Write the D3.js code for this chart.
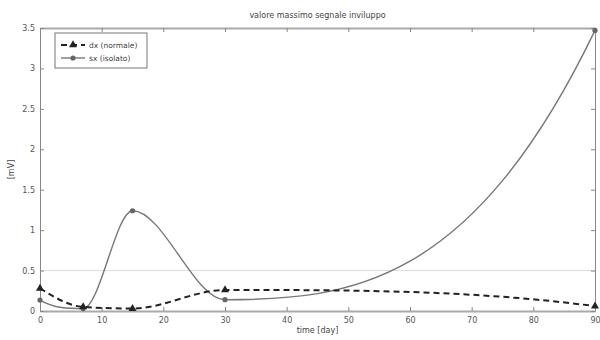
<!DOCTYPE html>
<html>
<head>
<meta charset="utf-8">
<script src="https://cdn.jsdelivr.net/npm/d3@7"></script>
<style>
  body { margin: 0; background: #fff; }
  svg text { font-family: "DejaVu Sans", sans-serif; fill: #444; }
</style>
</head>
<body>
<div id="chart"></div>
<script>
// days of measurement
const days = [0, 7, 15, 30, 90];
// dx (normale)
const dxValues = [0.28, 0.05, 0.03, 0.26, 0.06];
// sx (isolato)
const sxValues = [0.135, 0.03, 1.24, 0.14, 3.47];
const xTicks = [0, 10, 20, 30, 40, 50, 60, 70, 80, 90];
const yTicks = [0, 0.5, 1, 1.5, 2, 2.5, 3, 3.5];
const yTickLabels = ["0", "0.5", "1", "1.5", "2", "2.5", "3", "3.5"];
const refLevel = 0.5;

const width = 600, height = 340;
const margin = { top: 28, right: 5, bottom: 29, left: 40 };
const innerW = width - margin.left - margin.right;
const innerH = height - margin.top - margin.bottom;

const svg = d3.select("#chart").append("svg")
  .attr("width", width)
  .attr("height", height);

const g = svg.append("g")
  .attr("transform", "translate(" + margin.left + "," + margin.top + ")");

const x = d3.scaleLinear().domain([0, 90]).range([0, innerW]);
const y = d3.scaleLinear().domain([0, 3.5]).range([innerH, 0]);

// piecewise cubic hermite slopes, same rules as matlab pchip
function pchipSlopes(xs, ys) {
  const n = xs.length;
  const h = [], del = [];
  for (let k = 0; k < n - 1; k++) {
    h.push(xs[k + 1] - xs[k]);
    del.push((ys[k + 1] - ys[k]) / h[k]);
  }
  const d = new Array(n).fill(0);
  for (let k = 1; k < n - 1; k++) {
    if (Math.sign(del[k - 1]) * Math.sign(del[k]) > 0) {
      const w1 = 2 * h[k] + h[k - 1];
      const w2 = h[k] + 2 * h[k - 1];
      d[k] = (w1 + w2) / (w1 / del[k - 1] + w2 / del[k]);
    }
  }
  const endSlope = (h0, h1, d0, d1) => {
    let s = ((2 * h0 + h1) * d0 - h0 * d1) / (h0 + h1);
    if (Math.sign(s) !== Math.sign(d0)) s = 0;
    else if (Math.sign(d0) !== Math.sign(d1) && Math.abs(s) > Math.abs(3 * d0)) s = 3 * d0;
    return s;
  };
  d[0] = endSlope(h[0], h[1], del[0], del[1]);
  d[n - 1] = endSlope(h[n - 2], h[n - 3], del[n - 2], del[n - 3]);
  return d;
}

function pchipPath(xs, ys) {
  const d = pchipSlopes(xs, ys);
  const p = d3.path();
  p.moveTo(x(xs[0]), y(ys[0]));
  for (let k = 0; k < xs.length - 1; k++) {
    const hk = (xs[k + 1] - xs[k]) / 3;
    p.bezierCurveTo(
      x(xs[k] + hk), y(ys[k] + d[k] * hk),
      x(xs[k + 1] - hk), y(ys[k + 1] - d[k + 1] * hk),
      x(xs[k + 1]), y(ys[k + 1]));
  }
  return p.toString();
}

// reference line at 0.5
g.append("line")
  .attr("x1", 0).attr("x2", innerW)
  .attr("y1", y(refLevel)).attr("y2", y(refLevel))
  .style("stroke", "#ddd").style("stroke-width", 1);

// axes, matlab style: ticks inward
const axisColor = "#888";
const xBottom = g.append("g").attr("transform", "translate(0," + innerH + ")")
  .call(d3.axisBottom(x).tickValues(xTicks).tickSizeInner(-4).tickSizeOuter(0).tickPadding(6));
const xTop = g.append("g")
  .call(d3.axisTop(x).tickValues(xTicks).tickSizeInner(-4).tickSizeOuter(0).tickFormat(""));
const yLeft = g.append("g")
  .call(d3.axisLeft(y).tickValues(yTicks).tickSizeInner(-4).tickSizeOuter(0).tickPadding(5)
    .tickFormat((d, i) => yTickLabels[i]));
const yRight = g.append("g").attr("transform", "translate(" + innerW + ",0)")
  .call(d3.axisRight(y).tickValues(yTicks).tickSizeInner(-4).tickSizeOuter(0).tickFormat(""));

[xBottom, xTop, yLeft, yRight].forEach(a => {
  a.selectAll("path").style("stroke", axisColor);
  a.selectAll("line").style("stroke", axisColor);
  a.selectAll("text").style("font-size", "8px").style("fill", "#555");
});
xTop.select("path").style("stroke", "#aaa").style("stroke-width", 2);
xBottom.select("path").style("stroke", "#aaa").style("stroke-width", 2);

// sx solid gray
g.append("path")
  .attr("d", pchipPath(days, sxValues))
  .style("fill", "none")
  .style("stroke", "#777")
  .style("stroke-width", 1.4);

g.selectAll("circle.sx")
  .data(sxValues)
  .enter()
  .append("circle")
  .attr("class", "sx")
  .attr("cx", (d, i) => x(days[i]))
  .attr("cy", d => y(d))
  .attr("r", 2.6)
  .style("fill", "#666");

// dx dashed black
g.append("path")
  .attr("d", pchipPath(days, dxValues))
  .style("fill", "none")
  .style("stroke", "#222")
  .style("stroke-width", 2)
  .style("stroke-dasharray", "6,4");

g.selectAll("path.dx")
  .data(dxValues)
  .enter()
  .append("path")
  .attr("class", "dx")
  .attr("d", d3.symbol().type(d3.symbolTriangle).size(28))
  .attr("transform", (d, i) => "translate(" + x(days[i]) + "," + y(d) + ")")
  .style("fill", "#222");

// legend
const legend = g.append("g").attr("transform", "translate(15,5)");
legend.append("rect")
  .attr("width", 92).attr("height", 35)
  .style("fill", "#fff").style("stroke", "#777");
legend.append("line")
  .attr("x1", 6).attr("x2", 30).attr("y1", 12).attr("y2", 12)
  .style("stroke", "#222").style("stroke-width", 2).style("stroke-dasharray", "6,4");
legend.append("path")
  .attr("d", d3.symbol().type(d3.symbolTriangle).size(28))
  .attr("transform", "translate(18,12)")
  .style("fill", "#222");
legend.append("text").attr("x", 34).attr("y", 15).style("font-size", "7.5px").text("dx (normale)");
legend.append("line")
  .attr("x1", 6).attr("x2", 30).attr("y1", 25).attr("y2", 25)
  .style("stroke", "#777").style("stroke-width", 1.4);
legend.append("circle").attr("cx", 18).attr("cy", 25).attr("r", 2.6).style("fill", "#666");
legend.append("text").attr("x", 34).attr("y", 28).style("font-size", "7.5px").text("sx (isolato)");

// title and labels
svg.append("text")
  .attr("x", margin.left + innerW / 2).attr("y", 18)
  .attr("text-anchor", "middle").style("font-size", "8px")
  .text("valore massimo segnale inviluppo");
svg.append("text")
  .attr("x", margin.left + innerW / 2).attr("y", 333)
  .attr("text-anchor", "middle").style("font-size", "8px")
  .text("time [day]");
svg.append("text")
  .attr("transform", "translate(14," + (margin.top + innerH / 2) + ") rotate(-90)")
  .attr("text-anchor", "middle").style("font-size", "8px")
  .text("[mV]");
</script>
</body>
</html>
